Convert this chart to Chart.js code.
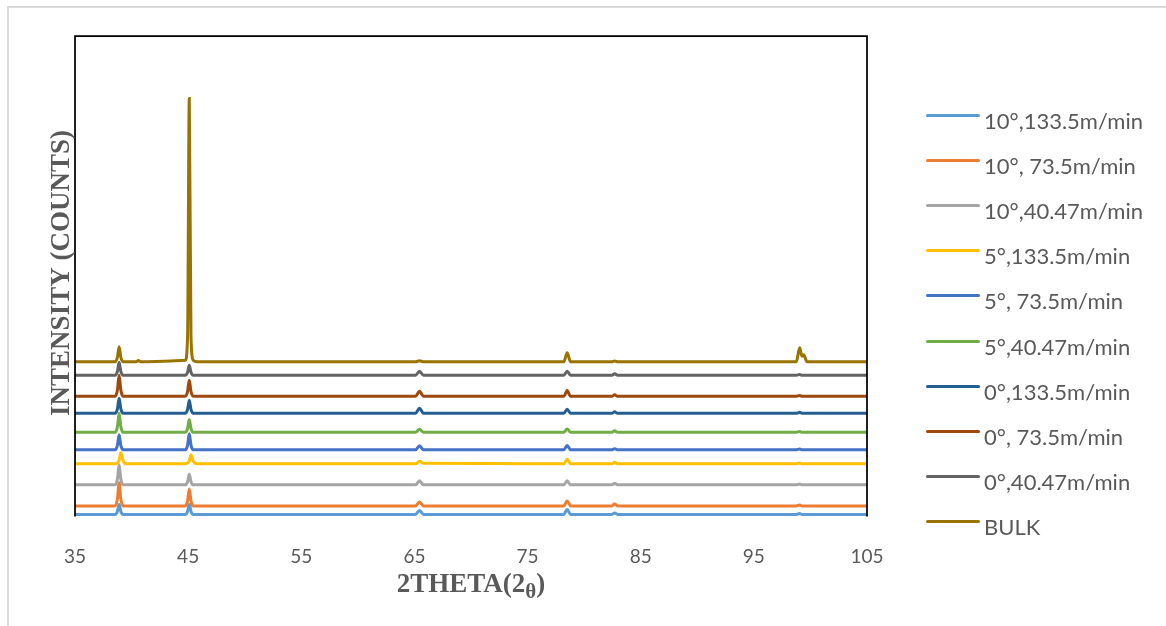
<!DOCTYPE html>
<html>
<head>
<meta charset="utf-8">
<title>XRD patterns</title>
<script src="https://cdn.jsdelivr.net/npm/chart.js@4.4.1/dist/chart.umd.min.js"></script>
<style>
    body { margin: 0; background: #fff; }
    #wrap { position: relative; width: 1166px; height: 626px; }
    #xrdChart { position: absolute; left: 0; top: 0; }
    #legend { position: absolute; left: 926px; top: 98px; font-family: Lato, "Open Sans", sans-serif; font-size: 22px; color: #595959; }
    .legend-row { height: 45.1px; display: flex; align-items: center; white-space: nowrap; }
    .legend-line { width: 54px; height: 3px; border-radius: 1.5px; margin-right: 4px; transform: translateY(-5px); }
</style>
</head>
<body>
<div id="wrap">
    <canvas id="xrdChart" width="1166" height="626"></canvas>
    <div id="legend"></div>
</div>
<script>
// 2theta positions shared by every pattern (degrees)
const twoTheta = [35, 38.55, 38.75, 38.9, 39.05, 39.25, 39.5, 40.4, 40.6, 40.8,
    44.75, 44.95, 45.1, 45.25, 45.45, 45.8, 65.1, 65.45, 65.8, 78.2, 78.5, 78.8,
    82.45, 82.7, 82.95, 98.75, 99.05, 99.25, 99.4, 99.7, 105];

const xTicks = [35, 45, 55, 65, 75, 85, 95, 105];

// intensities, each pattern already shifted up for the stacked view
const deg10_1335 = [20, 20, 50, 120, 50, 20, 20, 20, 20, 20, 20, 50, 120, 50, 20, 20, 20, 60, 20, 20, 70, 20, 20, 35, 20, 20, 28, 20, 20, 20, 20];
const deg10_735 = [105, 105, 175, 335, 175, 105, 105, 105, 105, 105, 105, 155, 275, 155, 105, 105, 105, 145, 105, 105, 155, 105, 105, 125, 105, 105, 115, 105, 105, 105, 105];
const deg10_4047 = [315, 315, 375, 515, 375, 315, 315, 315, 315, 315, 315, 347, 421, 347, 315, 315, 315, 355, 315, 315, 355, 315, 315, 330, 315, 315, 323, 315, 315, 315, 315];
const deg5_1335 = [525, 525, 535, 560, 635, 558, 525, 525, 525, 525, 525, 535, 552, 615, 550, 525, 525, 550, 530, 525, 570, 525, 525, 540, 525, 525, 533, 525, 525, 525, 525];
const deg5_735 = [665, 665, 710, 815, 710, 665, 665, 665, 665, 665, 665, 713, 825, 713, 665, 665, 665, 705, 665, 665, 709, 665, 665, 677, 665, 665, 673, 665, 665, 665, 665];
const deg5_4047 = [840, 840, 897, 1030, 897, 840, 840, 840, 840, 840, 840, 878, 967, 878, 840, 840, 840, 870, 840, 840, 873, 840, 840, 855, 840, 840, 848, 840, 840, 840, 840];
const deg0_1335 = [1030, 1030, 1075, 1180, 1075, 1030, 1030, 1030, 1030, 1030, 1030, 1069, 1160, 1069, 1030, 1030, 1030, 1080, 1030, 1030, 1070, 1030, 1030, 1045, 1030, 1030, 1040, 1030, 1030, 1030, 1030];
const deg0_735 = [1200, 1200, 1263, 1410, 1263, 1200, 1200, 1200, 1200, 1200, 1200, 1248, 1360, 1248, 1200, 1200, 1200, 1250, 1200, 1200, 1257, 1200, 1200, 1215, 1200, 1200, 1208, 1200, 1200, 1200, 1200];
const deg0_4047 = [1410, 1410, 1449, 1540, 1449, 1410, 1410, 1410, 1410, 1410, 1410, 1440, 1510, 1440, 1410, 1410, 1410, 1450, 1410, 1410, 1450, 1410, 1410, 1425, 1410, 1410, 1418, 1410, 1410, 1410, 1410];
const bulk = [1545, 1545, 1590, 1695, 1590, 1545, 1545, 1545, 1557, 1545, 1560, 1800, 4175, 1800, 1560, 1545, 1545, 1555, 1545, 1545, 1635, 1545, 1545, 1553, 1545, 1545, 1685, 1600, 1615, 1545, 1545];

const seriesLabels = ['10°,133.5m/min', '10°, 73.5m/min', '10°,40.47m/min', '5°,133.5m/min',
    '5°, 73.5m/min', '5°,40.47m/min', '0°,133.5m/min', '0°, 73.5m/min', '0°,40.47m/min', 'BULK'];
const seriesData = [deg10_1335, deg10_735, deg10_4047, deg5_1335, deg5_735, deg5_4047,
    deg0_1335, deg0_735, deg0_4047, bulk];
const seriesColors = ['#5B9BD5', '#ED7D31', '#A5A5A5', '#FFC000', '#4472C4', '#70AD47',
    '#255E91', '#9E480E', '#636363', '#997300'];

const textColor = '#595959';

// frame, outer border and axis titles
const decorPlugin = {
    id: 'decor',
    beforeDraw(chart) {
        const ctx = chart.ctx;
        ctx.save();
        ctx.strokeStyle = '#D9D9D9';
        ctx.lineWidth = 2;
        ctx.beginPath();
        ctx.moveTo(8, 626);
        ctx.lineTo(8, 7);
        ctx.lineTo(1166, 7);
        ctx.stroke();
        ctx.restore();
    },
    afterDatasetsDraw(chart) {
        const {ctx, chartArea} = chart;
        ctx.save();
        ctx.strokeStyle = '#000';
        ctx.lineWidth = 1.75;
        ctx.beginPath();
        ctx.moveTo(chartArea.left, chartArea.bottom);
        ctx.lineTo(chartArea.left, chartArea.top);
        ctx.lineTo(chartArea.right, chartArea.top);
        ctx.lineTo(chartArea.right, chartArea.bottom);
        ctx.stroke();

        ctx.fillStyle = textColor;
        ctx.textBaseline = 'alphabetic';

        // y title
        ctx.font = 'bold 27px "Liberation Serif", serif';
        ctx.textAlign = 'center';
        ctx.translate(69, 273);
        ctx.rotate(-Math.PI / 2);
        ctx.fillText('INTENSITY (COUNTS)', 0, 0);
        ctx.setTransform(1, 0, 0, 1, 0, 0);

        // x title with subscript theta
        const big = 'bold 27px "Liberation Serif", serif';
        const small = 'bold 21px "Liberation Serif", serif';
        ctx.textAlign = 'left';
        ctx.font = big;
        const w1 = ctx.measureText('2THETA(2').width;
        const w3 = ctx.measureText(')').width;
        ctx.font = small;
        const w2 = ctx.measureText('θ').width;
        let x = (chartArea.left + chartArea.right) / 2 - (w1 + w2 + w3) / 2;
        const baseY = 592;
        ctx.font = big;
        ctx.fillText('2THETA(2', x, baseY);
        x += w1;
        ctx.font = small;
        ctx.fillText('θ', x, baseY + 6);
        x += w2;
        ctx.font = big;
        ctx.fillText(')', x, baseY);
        ctx.restore();
    }
};

const datasets = seriesLabels.map((label, i) => ({
    label: label,
    data: twoTheta.map((t, j) => ({x: t, y: seriesData[i][j]})),
    borderColor: seriesColors[i],
    backgroundColor: seriesColors[i],
    borderWidth: 3,
    pointRadius: 0,
    cubicInterpolationMode: 'monotone',
    order: seriesLabels.length - i
}));

const chart = new Chart(document.getElementById('xrdChart'), {
    type: 'line',
    data: { datasets: datasets },
    options: {
        responsive: false,
        animation: false,
        events: [],
        layout: { padding: { left: 75, top: 36, right: 299, bottom: 29.6 } },
        plugins: {
            legend: { display: false },
            tooltip: { enabled: false }
        },
        scales: {
            x: {
                type: 'linear',
                min: 35,
                max: 105,
                afterBuildTicks: axis => { axis.ticks = xTicks.map(v => ({value: v})); },
                grid: { display: false, drawTicks: false },
                border: { display: false },
                ticks: {
                    padding: 28.6,
                    color: textColor,
                    font: { family: 'Lato', size: 19 }
                }
            },
            y: {
                display: false,
                min: 0,
                max: 4800
            }
        }
    },
    plugins: [decorPlugin]
});

// legend rows built from the datasets
const legendEl = document.getElementById('legend');
datasets.forEach(ds => {
    const row = document.createElement('div');
    row.className = 'legend-row';
    row.innerHTML = `<span class="legend-line" style="background:${ds.borderColor}"></span><span>${ds.label}</span>`;
    legendEl.appendChild(row);
});
</script>
</body>
</html>
